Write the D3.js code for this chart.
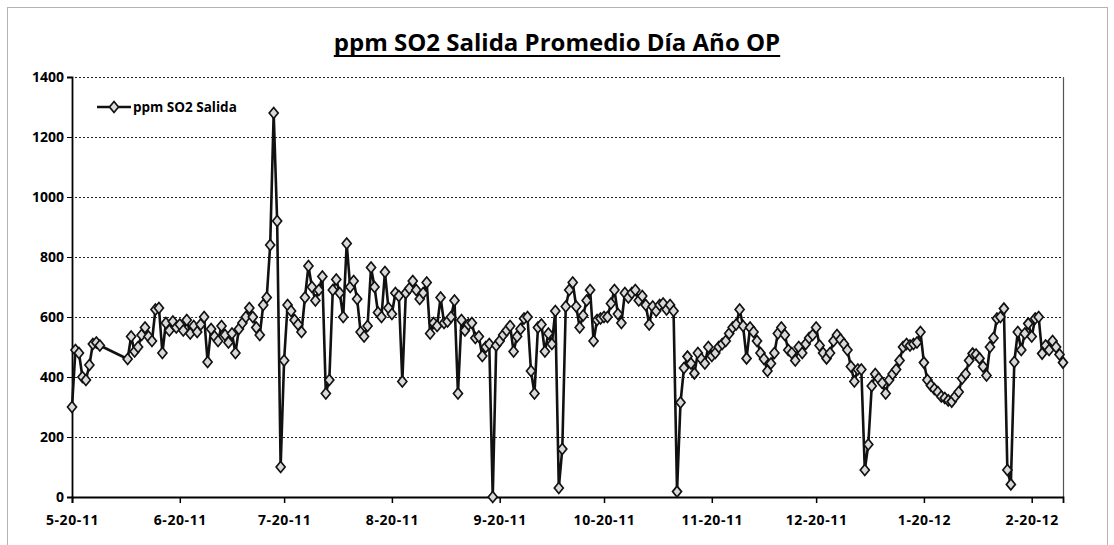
<!DOCTYPE html>
<html>
<head>
<meta charset="utf-8">
<script src="https://cdn.jsdelivr.net/npm/d3@7"></script>
<style>
  html, body { margin: 0; padding: 0; background: #fff; }
  svg { display: block; }
  text { font-family: "Open Sans", "Noto Sans", sans-serif; fill: #000; }
</style>
</head>
<body>
<svg id="chart" width="1114" height="545"></svg>
<script>
// Daily average SO2 outlet concentration (ppm), one value per day starting 5-20-11.
// null marks days without a reading; the line simply joins across them.
const startDay = "2011-05-20";
const endDay = "2012-02-29";
const seriesName = "ppm SO2 Salida";
const so2Values = [
  300, 490, 480, 400, 390, 440, 510, 515, 505,
  null, null, null, null, null, null, null,
  460, 535, 485, 500, 540, 565, 535, 520, 625, 630, 480, 580, 555, 585, 565,
  575, 555, 590, 545, 570, 550, 575, 600, 450, 560, 535, 520, 570, 540, 515, 545,
  480, 560, 580, 600, 630, 600, 565, 540, 640, 665, 840, 1280, 920, 100, 455, 640,
  620, 590, 575, 550, 665, 770, 700, 655, 690, 735, 345, 390, 690, 725, 680, 600,
  845, 700, 720, 660, 550, 535, 570, 765, 700, 615, 600, 750, 630, 610, 680, 670,
  385, 680, 695, 720, 690, 660, 680, 715, 545, 580, 570, 665, 580, 585, 600, 655,
  345, 590, 555, 575, 580, 530, 535, 470, 500, 510, 0, 505, 520, 540, 555, 570,
  485, 535, 560, 595, 600, 420, 345, 565, 575, 485, 545, 510, 620, 30, 160, 635,
  690, 715, 635, 565, 605, 655, 690, 520, 590, 595, 600, 600, 645, 690, 610, 580,
  680, 665, 680, 690, 655, 670, 640, 575, 635, 620, 640, 645, 625, 640, 620, 18,
  315, 430, 468, 445, 412, 480, 460, 445, 500, 470, 480, 500, 510, 520, 545, 565,
  575, 625, 570, 462, 565, 550, 520, 480, 460, 420, 445, 480, 545, 565, 540, 490,
  480, 455, 500, 480, 510, 530, 540, 565, 505, 480, 462, 480, 520, 540, 525, 510,
  490, 435, 385, 425, 425, 90, 175, 370, 410, 395, 380, 345, 390, 410, 425, 455,
  500, 510, 505, 510, 515, 550, 448, 390, 372, 360, 350, 335, 330, 322, 318, 335,
  350, 395, 410, 455, 478, 475, 462, 435, 405, 500, 530, 595, 600, 628, 90, 42,
  450, 550, 490, 545, 578, 535, 595, 600, 478, 505, 490, 520, 500, 475, 448
];
const yTicks = [0, 200, 400, 600, 800, 1000, 1200, 1400];
const xTickLabels = ["5-20-11", "6-20-11", "7-20-11", "8-20-11", "9-20-11",
                     "10-20-11", "11-20-11", "12-20-11", "1-20-12", "2-20-12"];
const titleText = "ppm SO2 Salida Promedio Día Año OP";

const svg = d3.select("#chart");
const parseDay = d3.timeParse("%Y-%m-%d");
const parseTick = d3.timeParse("%m-%d-%y");

const start = parseDay(startDay);
const points = so2Values
  .map((v, i) => ({ date: d3.timeDay.offset(start, i), value: v }))
  .filter(d => d.value !== null);

const plot = { left: 72, right: 1063, top: 77, bottom: 497 };

const x = d3.scaleTime()
  .domain([start, parseDay(endDay)])
  .range([plot.left, plot.right]);
const y = d3.scaleLinear()
  .domain([0, 1400])
  .range([plot.bottom, plot.top]);

// outer chart frame (dotted)
svg.append("rect")
  .attr("x", 7.5).attr("y", 7.5)
  .attr("width", 1100).attr("height", 560)
  .attr("fill", "none")
  .attr("stroke", "#666")
  .attr("stroke-width", 1)
  .attr("stroke-dasharray", "1,1");

// title
const title = svg.append("text")
  .attr("x", 557).attr("y", 51)
  .attr("text-anchor", "middle")
  .attr("font-size", 24)
  .attr("font-weight", 700)
  .text(titleText);
const tb = title.node().getBBox();
svg.append("line")
  .attr("x1", tb.x).attr("x2", tb.x + tb.width)
  .attr("y1", 56).attr("y2", 56)
  .attr("stroke", "#000").attr("stroke-width", 2);

// horizontal gridlines
svg.append("g")
  .selectAll("line")
  .data(yTicks.filter(t => t > 0))
  .join("line")
  .attr("x1", plot.left - 5).attr("x2", plot.right)
  .attr("y1", d => Math.round(y(d)) + 0.5).attr("y2", d => Math.round(y(d)) + 0.5)
  .attr("stroke", "#222")
  .attr("stroke-width", 1)
  .attr("stroke-dasharray", "2,2");

// right plot border
svg.append("line")
  .attr("x1", plot.right + 0.5).attr("x2", plot.right + 0.5)
  .attr("y1", plot.top).attr("y2", plot.bottom)
  .attr("stroke", "#555").attr("stroke-width", 1.2);

// y axis
const yAxis = svg.append("g")
  .attr("transform", `translate(${plot.left},0)`)
  .call(d3.axisLeft(y).tickValues(yTicks).tickSize(5).tickPadding(3).tickFormat(d3.format("d")));
yAxis.select(".domain").attr("stroke", "#000").attr("stroke-width", 1.8);
yAxis.selectAll(".tick line").attr("stroke", "#000");
yAxis.selectAll("text")
  .attr("font-size", 14)
  .attr("font-weight", 700)
  .attr("font-family", "'Open Sans', sans-serif")
  .attr("fill", "#000");

// x axis
const xTickDates = xTickLabels.map(s => parseTick(s));
const xAxis = svg.append("g")
  .attr("transform", `translate(0,${plot.bottom})`)
  .call(d3.axisBottom(x)
    .tickValues(xTickDates)
    .tickSize(6)
    .tickPadding(12)
    .tickFormat((d, i) => xTickLabels[i]));
xAxis.select(".domain").attr("stroke", "#000").attr("stroke-width", 1.8);
xAxis.selectAll(".tick line").attr("stroke", "#000").attr("stroke-width", 1.5);
xAxis.selectAll("text")
  .attr("font-size", 14)
  .attr("font-weight", 700)
  .attr("letter-spacing", 0.6)
  .attr("font-family", "'Open Sans', sans-serif")
  .attr("fill", "#000");

// series line
const line = d3.line()
  .x(d => x(d.date))
  .y(d => y(d.value));
svg.append("path")
  .datum(points)
  .attr("d", line)
  .attr("fill", "none")
  .attr("stroke", "#111")
  .attr("stroke-width", 2.6)
  .attr("stroke-linejoin", "round");

// diamond markers
const diamond = "M0,-5.5L4.5,0L0,5.5L-4.5,0Z";
svg.append("g")
  .selectAll("path")
  .data(points)
  .join("path")
  .attr("transform", d => `translate(${x(d.date)},${y(d.value)})`)
  .attr("d", diamond)
  .attr("fill", "#d9d9d9")
  .attr("stroke", "#111")
  .attr("stroke-width", 1.7);

// legend
const lg = svg.append("g").attr("transform", "translate(97,107)");
lg.append("line")
  .attr("x1", 0).attr("x2", 34).attr("y1", 0).attr("y2", 0)
  .attr("stroke", "#111").attr("stroke-width", 2.6);
lg.append("path")
  .attr("transform", "translate(17,0)")
  .attr("d", diamond)
  .attr("fill", "#d9d9d9").attr("stroke", "#111").attr("stroke-width", 1.7);
lg.append("text")
  .attr("x", 36).attr("y", 5)
  .attr("font-size", 13.5)
  .attr("font-weight", 700)
  .text(seriesName);
</script>
</body>
</html>
